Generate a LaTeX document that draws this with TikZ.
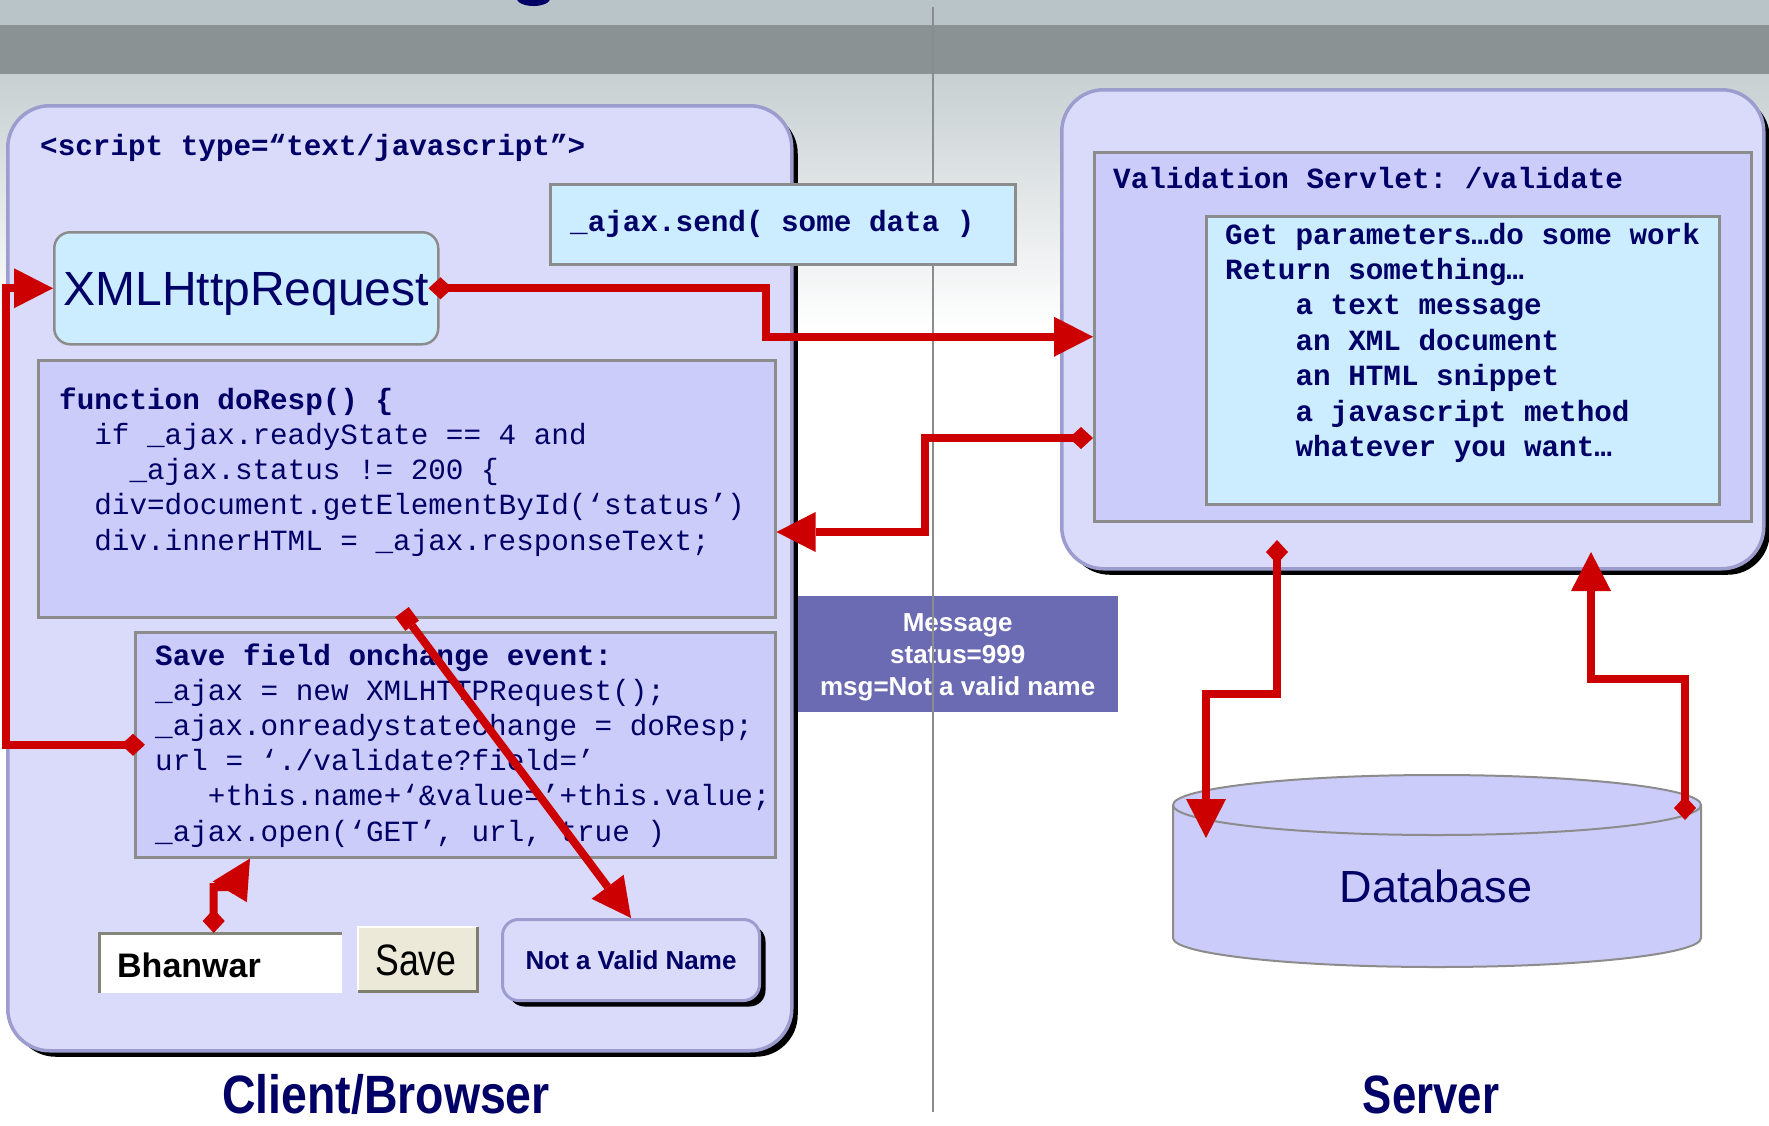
\documentclass[tikz,border=0pt]{standalone}
\usepackage{fontspec}
\setmainfont{Liberation Sans}
\setmonofont{Liberation Mono}
\usetikzlibrary{arrows.meta,calc,shadows}

\definecolor{navy}{HTML}{000066}
\definecolor{wirered}{HTML}{CC0000}
\definecolor{lavender}{HTML}{DADAFB}
\definecolor{periwinkle}{HTML}{CCCCFB}
\definecolor{skyblue}{HTML}{CCECFF}
\definecolor{paneledge}{HTML}{9C9CCE}
\definecolor{boxedge}{HTML}{8C8C8C}
\definecolor{msgfill}{HTML}{6B6BB3}
\definecolor{skytop}{HTML}{B8C4C8}
\definecolor{bandedge}{HTML}{8A9294}
\definecolor{bandmid}{HTML}{A3ABAD}
\definecolor{haze}{HTML}{C8D0D2}
\definecolor{fieldedge}{HTML}{85857A}
\definecolor{buttonface}{HTML}{ECE9D8}
\definecolor{buttonedge}{HTML}{7F7F70}

\tikzset{
  panel/.style={draw=paneledge, line width=3.5pt, fill=lavender, rounded corners=42pt,
    anchor=north west, inner sep=0pt,
    drop shadow={shadow xshift=6pt, shadow yshift=-6pt, fill=black, opacity=1}},
  codebox/.style={draw=boxedge, line width=2.5pt, fill=periwinkle, anchor=north west, inner sep=0pt},
  lightbox/.style={codebox, fill=skyblue},
  code/.style={font=\ttfamily\fontsize{29.3}{35}\selectfont, text=navy, inner sep=0pt, anchor=base west},
  codehead/.style={code, font=\ttfamily\bfseries\fontsize{29.3}{35}\selectfont},
  caption/.style={anchor=base, inner sep=0pt, text=navy, font=\bfseries\fontsize{54}{54}\selectfont},
  wire/.style={draw=wirered, line width=8pt},
  dtail/.tip={Diamond[length=24pt, width=22pt, line width=0pt]},
  thead/.tip={Triangle[length=39pt, width=40pt, line width=0pt]},
  stail/.tip={Square[length=17pt, width=17pt, line width=0pt]}
}

\begin{document}
\begin{tikzpicture}[x=1pt, y=-1pt]
    \useasboundingbox (0,0) rectangle (1769,1125);
    %%backdrop
    \fill[white] (0,0) rectangle (1769,1125);
    \fill[skytop] (0,0) rectangle (1769,25);
    \shade[top color=bandedge, middle color=bandmid, bottom color=bandedge] (0,25) rectangle (1769,74);
    \shade[top color=haze, bottom color=white] (0,74) rectangle (1769,330);
    \fill[navy] (533.5,-2) ellipse[x radius=17pt, y radius=8pt];

    %%message on the wire
    \node[fill=msgfill, anchor=north west, minimum width=321pt, minimum height=116pt, inner sep=0pt,
      text=white, align=center, font=\bfseries\fontsize{26}{32}\selectfont, text depth=0pt]
      (msg) at (797,596) {Message\\status=999\\msg=Not a valid name};
    \draw[boxedge, line width=1.5pt] (933,7) -- (933,1112);

    %%client side
    \node[panel, minimum width=784pt, minimum height=945pt] (client) at (6,104) {};
    \node[codehead] (scripttag) at (40,155) {<script type=“text/javascript”>};
    \node[lightbox, minimum width=465pt, minimum height=80pt] (send) at (549,183) {};
    \node[codehead] (sendtext) at (570,231) {\_ajax.send( some data )};
    \node[lightbox, rounded corners=16pt, minimum width=384pt, minimum height=112pt,
      text=navy, font=\fontsize{48}{48}\selectfont, text height=34.4pt, text depth=0pt]
      (xhr) at (53,231) {XMLHttpRequest};

    \node[codebox, minimum width=737pt, minimum height=257pt] (resp) at (37,359) {};
    \node[codehead] (resp0) at (59,409) {function doResp() \{};
    \foreach \txt [count=\i] in {{~~if \_ajax.readyState == 4 and},
        {~~~~\_ajax.status != 200 \{},
        {~~div=document.getElementById(‘status’)},
        {~~div.innerHTML = \_ajax.responseText;}}
      \node[code] (resp\i) at (59,{409+35.3*\i}) {\txt};

    \node[codebox, minimum width=640pt, minimum height=225pt] (save) at (134,631) {};
    \node[codehead] (save0) at (155,665) {Save field onchange event:};
    \foreach \txt [count=\i] in {{\_ajax = new XMLHTTPRequest();},
        {\_ajax.onreadystatechange = doResp;},
        {url = ‘./validate?field=’},
        {~~~+this.name+‘\&value=’+this.value;},
        {\_ajax.open(‘GET’, url, true )}}
      \node[code] (save\i) at (155,{665+35.2*\i}) {\txt};

    %%form controls
    \node[fill=white, anchor=north west, minimum width=243pt, minimum height=60pt, inner sep=0pt] (field) at (99,933) {};
    \draw[fieldedge, line width=3pt] (field.south west) -- (field.north west) -- (field.north east);
    \node[anchor=base west, inner sep=0pt, font=\bfseries\fontsize{34}{34}\selectfont] (fieldtext) at (117,977) {Bhanwar};
    \node[fill=buttonface, anchor=north west, minimum width=119pt, minimum height=64pt, inner sep=0pt] (button) at (358,927) {};
    \draw[white, line width=2.5pt] (button.south west) -- (button.north west) -- (button.north east);
    \draw[buttonedge, line width=3pt] (button.north east) -- (button.south east) -- (button.south west);
    \node[anchor=base, inner sep=0pt, font=\fontsize{44}{44}\selectfont] (buttontext) at (416,975) {\scalebox{0.81}[1]{Save}};
    \node[panel, rounded corners=16pt, line width=3pt, minimum width=257pt, minimum height=81pt,
      text=navy, font=\bfseries\fontsize{26}{26}\selectfont, text height=18.6pt, text depth=0pt]
      (notvalid) at (501,918) {Not a Valid Name};

    %%server side
    \node[panel, minimum width=702pt, minimum height=479pt] (server) at (1060,88) {};
    \node[codebox, minimum width=657pt, minimum height=369pt] (servlet) at (1093,151) {};
    \node[codehead] (servlettitle) at (1113,188) {Validation Servlet: /validate};
    \node[lightbox, minimum width=513pt, minimum height=288pt] (work) at (1205,215) {};
    \foreach \txt [count=\i] in {{Get parameters…do some work},
        {Return something…},
        {~~~~a text message},
        {~~~~an XML document},
        {~~~~an HTML snippet},
        {~~~~a javascript method},
        {~~~~whatever you want…}}
      \node[codehead] (work\i) at (1225,{244+35.4*(\i-1)}) {\txt};

    %%database
    \fill[periwinkle] (1173,805) -- (1173,938) arc[start angle=180, end angle=360, x radius=264pt, y radius=29pt]
      -- (1701,805) arc[start angle=0, end angle=180, x radius=264pt, y radius=30pt] -- cycle;
    \draw[boxedge, line width=2pt] (1173,805) -- (1173,938)
      arc[start angle=180, end angle=360, x radius=264pt, y radius=29pt] -- (1701,805);
    \draw[boxedge, line width=2pt] (1437,805) ellipse[x radius=264pt, y radius=30pt];
    \node[anchor=base, inner sep=0pt, text=navy, font=\fontsize{45}{45}\selectfont] (db) at (1436,902) {Database};

    %%connectors
    \coordinate (sendbend) at (766,0);
    \coordinate (replybend) at (925,438);
    \coordinate (replydown) at (925,532);
    \coordinate (leftrail) at (6,0);
    \coordinate (dbout) at (1277,540);
    \coordinate (dbin) at (1206,838);
    \coordinate (dbret) at (1685,820);
    \coordinate (srvin) at (1591,552);
    \draw[wire, dtail-thead] ([xshift=-11pt]xhr.east) -| (sendbend |- servlet.west) -- (servlet.west);
    \draw[wire, dtail-thead] (servlet.west |- replybend) -- (replybend) -- (replydown) -- (resp.east |- replydown);
    \draw[wire, dtail-thead] ([xshift=11pt]save.west) -| (leftrail |- xhr.west) -- (xhr.west);
    \draw[wire, dtail-thead] ([xshift=-7pt]field.north) |- ++(19,-46) -- ([xshift=116pt]save.south west);
    \draw[wire, stail-thead] ($(resp.south)!-8pt!(notvalid.north)$) -- (notvalid.north);
    \draw[wire, dtail-thead] (dbout) -- ++(0,154) -| (dbin);
    \draw[wire, dtail-thead] (dbret) -- ++(0,-141) -| (srvin);

    %%captions
    \node[caption] (clientlabel) at (386,1113) {\scalebox{0.86}[1]{Client/Browser}};
    \node[caption] (serverlabel) at (1431,1113) {\scalebox{0.81}[1]{Server}};
\end{tikzpicture}
\end{document}
